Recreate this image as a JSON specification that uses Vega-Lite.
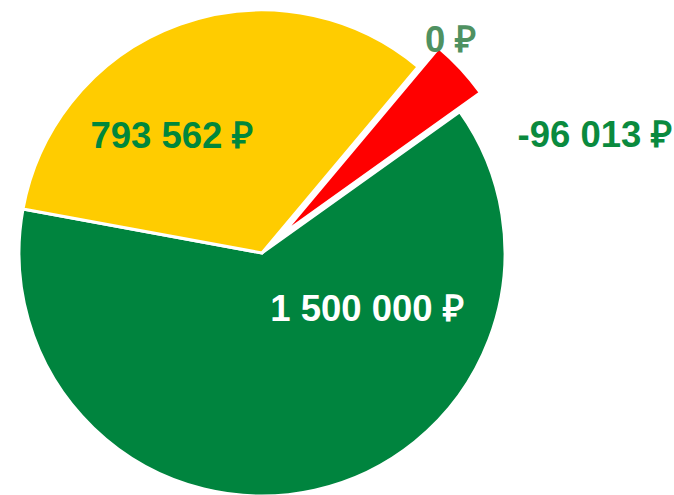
{
  "$schema": "https://vega.github.io/schema/vega-lite/v6.json",
  "width": 524,
  "height": 484,
  "autosize": "none",
  "padding": {"left": 0, "right": 150, "top": 11, "bottom": 0},
  "background": "white",
  "config": {"view": {"stroke": null}},
  "data": {
    "values": [
      {"name": "zero", "order": 1, "value": 0, "label": "0 ₽"},
      {"name": "loss", "order": 2, "value": 96013, "label": "-96 013 ₽"},
      {"name": "main", "order": 3, "value": 1500000, "label": "1 500 000 ₽"},
      {"name": "rest", "order": 4, "value": 793562, "label": "793 562 ₽"}
    ]
  },
  "encoding": {
    "theta": {"field": "value", "type": "quantitative", "stack": true, "scale": {"range": [0.698, 6.981]}},
    "order": {"field": "order", "type": "quantitative"}
  },
  "layer": [
    {
      "mark": {"type": "arc", "outerRadius": 243, "stroke": "white", "strokeWidth": 3},
      "encoding": {
        "color": {"field": "name", "type": "nominal", "legend": null,
          "scale": {"domain": ["zero", "loss", "main", "rest"], "range": ["#ffffff", "#ff0000", "#00843e", "#ffcc00"]}},
        "opacity": {"condition": {"test": "datum.name === 'loss' || datum.name === 'zero'", "value": 0}, "value": 1}
      }
    },
    {
      "mark": {"type": "arc", "outerRadius": 243, "stroke": "white", "strokeWidth": 3, "xOffset": 20.6, "yOffset": -19},
      "encoding": {
        "color": {"field": "name", "type": "nominal", "legend": null},
        "opacity": {"condition": {"test": "datum.name === 'loss'", "value": 1}, "value": 0}
      }
    },
    {
      "mark": {"type": "text", "radius": 119.5, "thetaOffset": -0.854, "font": "Liberation Sans", "fontSize": 36.5, "fontWeight": "bold", "fill": "#ffffff", "align": "center", "baseline": "middle"},
      "encoding": {
        "text": {"field": "label"},
        "opacity": {"condition": {"test": "datum.name === 'main'", "value": 1}, "value": 0}
      }
    },
    {
      "mark": {"type": "text", "radius": 147, "thetaOffset": -0.314, "font": "Liberation Sans", "fontSize": 36.5, "fontWeight": "bold", "fill": "#00873c", "align": "center", "baseline": "middle"},
      "encoding": {
        "text": {"field": "label"},
        "opacity": {"condition": {"test": "datum.name === 'rest'", "value": 1}, "value": 0}
      }
    },
    {
      "mark": {"type": "text", "radius": 353, "thetaOffset": 0.408, "font": "Liberation Sans", "fontSize": 36.5, "fontWeight": "bold", "fill": "#0a8a3e", "align": "center", "baseline": "middle"},
      "encoding": {
        "text": {"field": "label"},
        "opacity": {"condition": {"test": "datum.name === 'loss'", "value": 1}, "value": 0}
      }
    },
    {
      "mark": {"type": "text", "radius": 284, "thetaOffset": 0.029, "font": "Liberation Sans", "fontSize": 36.5, "fontWeight": "bold", "fill": "#4f9161", "align": "center", "baseline": "middle"},
      "encoding": {
        "text": {"field": "label"},
        "opacity": {"condition": {"test": "datum.name === 'zero'", "value": 1}, "value": 0}
      }
    }
  ]
}
